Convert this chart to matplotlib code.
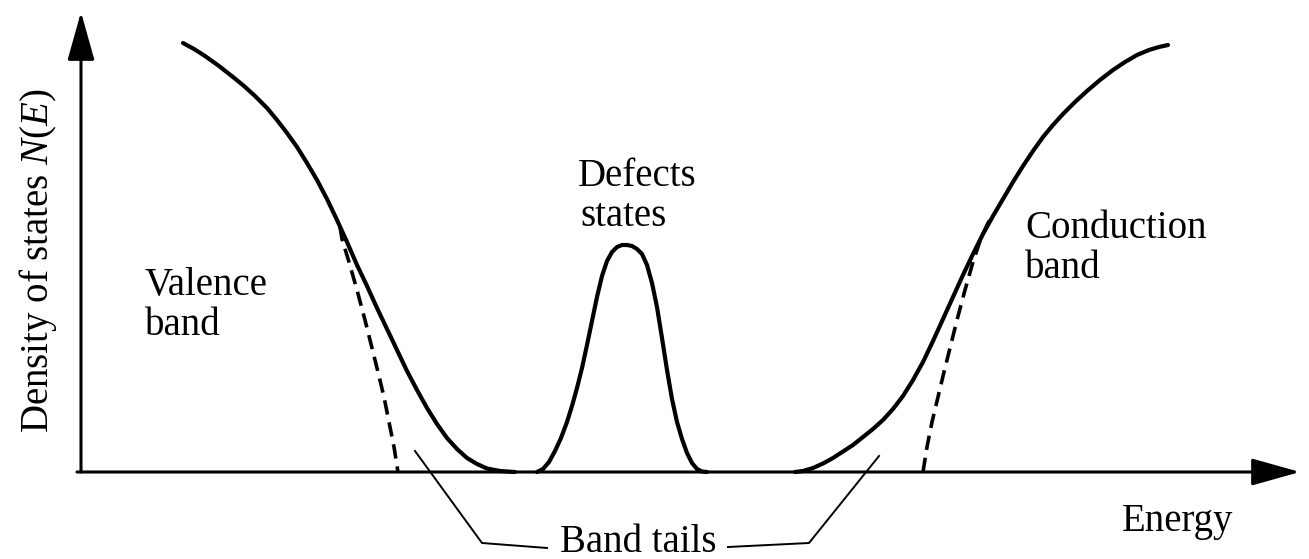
import matplotlib
matplotlib.use("Agg")
import matplotlib.pyplot as plt

plt.rcParams['font.family'] = ['Liberation Serif', 'DejaVu Serif']
plt.rcParams['mathtext.fontset'] = 'custom'
plt.rcParams['mathtext.rm'] = 'Liberation Serif'
plt.rcParams['mathtext.it'] = 'Liberation Serif:italic'

# ---- data (energy, N(E)) ----
valence_E = [102, 113, 124, 138, 152, 163, 174, 186, 196, 206, 216, 226, 236, 246,
             256, 266, 276, 286, 296, 306, 316, 326, 336, 346, 356, 366, 376, 386,
             396, 406, 419, 434]
valence_N = [429, 423, 416, 406, 395, 386, 376, 364, 352, 339, 325, 309, 292, 273,
             252, 230, 207, 186, 164, 143, 122, 101, 82, 64, 48, 34, 23, 14,
             8, 3.5, 1, 0]

valence_edge_E = [259, 261, 268, 276, 284, 291, 297, 303, 308, 313, 317]
valence_edge_N = [245, 233, 210, 182, 152, 124, 100, 75, 50, 25, 0]

defect_E = [456, 462, 468, 474, 480, 486, 491, 496, 501, 506, 511, 516, 521, 526,
            531, 536, 541, 546, 551, 556, 561, 566, 571, 576, 581, 586, 591, 596,
            601, 606, 611, 616, 621, 626]
defect_N = [0, 3, 10, 21, 34, 50, 66, 84, 104, 127, 151, 175, 196, 211,
            220, 225, 227, 227, 226, 223, 218, 207, 189, 165, 134, 102, 73, 50,
            33, 19, 9, 3, 0.5, 0]

conduction_E = [714, 722, 732, 742, 752, 762, 772, 782, 792, 802, 812, 822, 832, 842,
                852, 862, 872, 882, 892, 902, 912, 922, 932, 942, 952, 962, 972, 982,
                994, 1006, 1019, 1032, 1044, 1056, 1068, 1078, 1087]
conduction_N = [0, 1, 4, 8.5, 14, 20.5, 27, 35, 43, 52, 63, 76, 92, 110,
                131, 153, 175, 197, 218, 238, 256, 273, 290, 306, 321, 335, 347, 358,
                370, 381, 392, 402, 410, 417, 422, 425, 427]

conduction_edge_E = [842, 846, 851, 857, 863, 869, 876, 884, 892, 900, 907, 912]
conduction_edge_N = [0, 25, 50, 75, 100, 124, 152, 182, 210, 234, 249, 257]

leader_left_E = [334, 401, 466]
leader_left_N = [21, -71, -76]
leader_right_E = [647, 728, 798]
leader_right_N = [-75, -71, 16]

labels = {
    "valence": ["Valence", "band"],
    "defects": ["Defects", "states"],
    "conduction": ["Conduction", "band"],
    "tails": "Band tails",
    "xlabel": "Energy",
    "ylabel": r"Density of states $N(E)$",
}

# ---- figure ----
fig = plt.figure(figsize=(13.09, 5.59), dpi=100)
ax = fig.add_axes([0, 0, 1, 1])
ax.set_xlim(-81, 1228)
ax.set_ylim(-87, 472)
ax.axis('off')

lw_curve = 3.0
style = dict(color='black', lw=lw_curve, solid_capstyle='round', solid_joinstyle='round')
ax.plot(valence_E, valence_N, **style)
ax.plot(defect_E, defect_N, **style)
ax.plot(conduction_E, conduction_N, **style)
ax.plot(valence_edge_E, valence_edge_N, color='black', lw=2.6, ls=(0, (4, 2.2)))
ax.plot(conduction_edge_E, conduction_edge_N, color='black', lw=2.6, ls=(0, (4, 2.2)))

ax.plot(leader_left_E, leader_left_N, color='black', lw=1.4)
ax.plot(leader_right_E, leader_right_N, color='black', lw=1.4)

# axes arrows
arrow_kw = dict(arrowstyle="-|>,head_length=1.5,head_width=0.42", color='black',
                lw=2.2, mutation_scale=20, shrinkA=0, shrinkB=0)
ax.annotate("", xy=(0, 460), xytext=(0, 0), arrowprops=arrow_kw)
ax.annotate("", xy=(1219, 0), xytext=(-4, 0), arrowprops=arrow_kw)

fs = 28
ax.text(64, 177, labels["valence"][0], fontsize=fs, ha='left', va='baseline')
ax.text(64, 137, labels["valence"][1], fontsize=fs, ha='left', va='baseline')
ax.text(497, 286, labels["defects"][0], fontsize=fs, ha='left', va='baseline')
ax.text(499, 246, labels["defects"][1], fontsize=fs, ha='left', va='baseline')
ax.text(944, 234, labels["conduction"][0], fontsize=fs, ha='left', va='baseline')
ax.text(944, 194, labels["conduction"][1], fontsize=fs, ha='left', va='baseline')
ax.text(479, -80, labels["tails"], fontsize=fs, ha='left', va='baseline')
ax.text(1041, -59, labels["xlabel"], fontsize=fs, ha='left', va='baseline')
ax.text(-33, 39, labels["ylabel"], fontsize=fs, rotation=90, rotation_mode='anchor',
        ha='left', va='baseline')

fig.savefig("out.png", dpi=100)
